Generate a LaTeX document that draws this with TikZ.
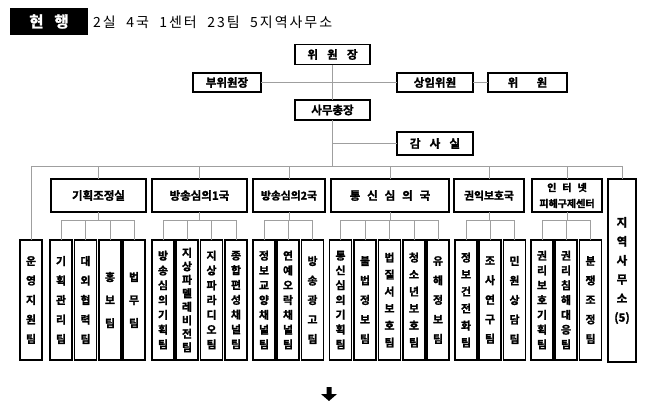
\documentclass[tikz,border=0pt]{standalone}
\usepackage{fontspec}
\newfontfamily\kr{Noto Sans CJK KR}
\newfontfamily\krsp{Noto Sans CJK KR}[LetterSpace=14]
\newfontfamily\krb{Noto Sans CJK KR Bold}[FakeBold=1.6]
\tikzset{
  box/.style={draw=black, line width=1.4pt, fill=white, inner sep=0pt, outer sep=0pt, align=center, font=\krb\fontsize{11.5}{14}\selectfont},
  divbox/.style={box, minimum height=33pt},
  team/.style={box, minimum width=22pt, minimum height=120pt, font=\krb\fontsize{10.8}{#1}\selectfont},
  conn/.style={draw=gray!75, line width=0.8pt},
}
\begin{document}
\begin{tikzpicture}[x=1pt,y=-1pt]
\useasboundingbox (0,0) rectangle (650,400);
% header
\node[fill=black, minimum width=78pt, minimum height=27pt, inner sep=0pt] (hd) at (49,21.5)
  {\color{white}\krb\fontsize{15.5}{18}\selectfont 현\hspace{0.7em}행};
\node[anchor=west, inner sep=0pt] (hdtext) at (93,22) {\krsp\fontsize{14}{16}\selectfont 2실\hspace{0.75em}4국\hspace{0.75em}1센터\hspace{0.75em}23팀\hspace{0.75em}5지역사무소};
% top
\node[box, minimum width=75pt, minimum height=20pt] (chair) at (332.5,54.5) {위\hspace{0.8em}원\hspace{0.8em}장};
\node[box, minimum width=68pt, minimum height=19pt] (vice) at (227,82.5) {부위원장};
\node[box, minimum width=76pt, minimum height=19pt] (sang) at (435,82.5) {상임위원};
\node[box, minimum width=79pt, minimum height=19pt] (wi) at (527.5,82.5) {위\hspace{1.6em}원};
\node[box, minimum width=75pt, minimum height=20pt] (sec) at (332.5,110) {사무총장};
\node[box, minimum width=76pt, minimum height=23pt] (audit) at (435,143.5) {감\hspace{0.8em}사\hspace{0.8em}실};
% divisions
\node[divbox, minimum width=95pt] (d1) at (98.5,195.5) {기획조정실};
\node[divbox, minimum width=95pt] (d2) at (199.5,195.5) {방송심의1국};
\node[divbox, minimum width=72pt, font=\krb\fontsize{10.8}{14}\selectfont] (d3) at (289,195.5) {방송심의2국};
\node[divbox, minimum width=118pt] (d4) at (390,195.5) {통\hspace{0.6em}신\hspace{0.6em}심\hspace{0.6em}의\hspace{0.6em}국};
\node[divbox, minimum width=70pt, font=\krb\fontsize{10.8}{14}\selectfont] (d5) at (489,195.5) {권익보호국};
\node[divbox, minimum width=70pt, font=\krb\fontsize{10}{16}\selectfont] (d6) at (567,195.5) {인\hspace{0.6em}터\hspace{0.6em}넷\\피해구제센터};
\node[box, minimum width=28pt, minimum height=183pt, font=\krb\fontsize{11.5}{19}\selectfont] (reg) at (622,270.5) {지\\역\\사\\무\\소\\(5)};
% teams
\node[team=19.5] (ops) at (31,300) {운\\영\\지\\원\\팀};
\node[team=19.5] (t11) at (61,300) {기\\획\\관\\리\\팀};
\node[team=19.5] (t12) at (85.5,300) {대\\외\\협\\력\\팀};
\node[team=23] (t13) at (110,300) {홍\\보\\팀};
\node[team=23] (t14) at (134,300) {법\\무\\팀};
\node[team=14.8] (t21) at (163,300) {방\\송\\심\\의\\기\\획\\팀};
\node[team=13.5] (t22) at (187,300) {지\\상\\파\\텔\\레\\비\\전\\팀};
\node[team=14.8] (t23) at (211.5,300) {지\\상\\파\\라\\디\\오\\팀};
\node[team=14.8] (t24) at (236,300) {종\\합\\편\\성\\채\\널\\팀};
\node[team=14.8] (t31) at (264,300) {정\\보\\교\\양\\채\\널\\팀};
\node[team=14.8] (t32) at (288,300) {연\\예\\오\\락\\채\\널\\팀};
\node[team=19.5] (t33) at (312.5,300) {방\\송\\광\\고\\팀};
\node[team=14.8] (t41) at (340.5,300) {통\\신\\심\\의\\기\\획\\팀};
\node[team=19.5] (t42) at (365,300) {불\\법\\정\\보\\팀};
\node[team=17] (t43) at (389.5,300) {법\\질\\서\\보\\호\\팀};
\node[team=17] (t44) at (414,300) {청\\소\\년\\보\\호\\팀};
\node[team=19.5] (t45) at (438,300) {유\\해\\정\\보\\팀};
\node[team=17] (t51) at (466,300) {정\\보\\건\\전\\화\\팀};
\node[team=19.5] (t52) at (490,300) {조\\사\\연\\구\\팀};
\node[team=19.5] (t53) at (514.5,300) {민\\원\\상\\담\\팀};
\node[team=14.8] (t61) at (542,300) {권\\리\\보\\호\\기\\획\\팀};
\node[team=14.8] (t62) at (566,300) {권\\리\\침\\해\\대\\응\\팀};
\node[team=19.5] (t63) at (590.5,300) {분\\쟁\\조\\정\\팀};
% connectors
\draw[conn] (chair.south) -- (sec.north);
\draw[conn] (vice.east) -- (sang.west);
\draw[conn] (sang.east) -- (wi.west);
\coordinate (bus) at (332.5,166);
\draw[conn] (sec.south) -- (sec.south |- bus);
\draw[conn] (audit.west) -- (audit.west -| sec.south);
\draw[conn] (ops.north) -- (ops.north |- bus) -- (reg.north |- bus) -- (reg.north);
\foreach \d in {d1,d2,d3,d4,d5,d6}{\draw[conn] (\d.north) -- (\d.north |- bus); \draw[conn] (\d.south) -- ++(0,8);}
\draw[conn] (t11.north) -- ++(0,-20) -| (t14.north);
\foreach \t in {t12,t13}{\draw[conn] (\t.north) -- ++(0,-20);}
\draw[conn] (t21.north) -- ++(0,-20) -| (t24.north);
\foreach \t in {t22,t23}{\draw[conn] (\t.north) -- ++(0,-20);}
\draw[conn] (t31.north) -- ++(0,-20) -| (t33.north);
\draw[conn] (t32.north) -- ++(0,-20);
\draw[conn] (t41.north) -- ++(0,-20) -| (t45.north);
\foreach \t in {t42,t43,t44}{\draw[conn] (\t.north) -- ++(0,-20);}
\draw[conn] (t51.north) -- ++(0,-20) -| (t53.north);
\draw[conn] (t52.north) -- ++(0,-20);
\draw[conn] (t61.north) -- ++(0,-20) -| (t63.north);
\draw[conn] (t62.north) -- ++(0,-20);
% arrow
\fill[black] (326.5,387) -- (331.5,387) -- (331.5,394) -- (337,394) -- (329,401) -- (321,394) -- (326.5,394) -- cycle;
\end{tikzpicture}
\end{document}
